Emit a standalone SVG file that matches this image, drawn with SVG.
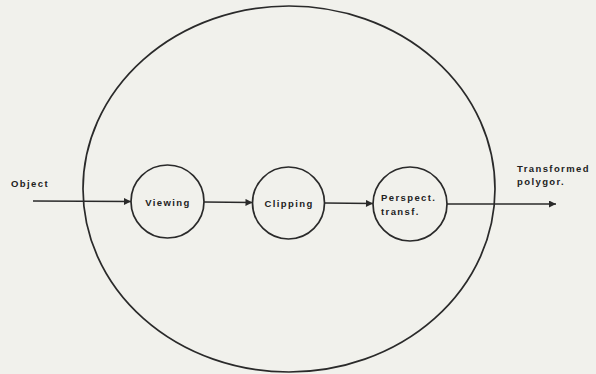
<svg xmlns="http://www.w3.org/2000/svg" width="596" height="374" viewBox="0 0 596 374">
<style>
.ln{stroke:#2a2a2a;stroke-width:1.7;fill:none}
.nd{stroke:#2a2a2a;stroke-width:1.7;fill:none}
text{font-family:"Liberation Sans",Arial,sans-serif;font-weight:bold;font-size:9.5px;letter-spacing:1.4px;fill:#222}
</style>
<defs>
<marker id="ah" viewBox="0 0 10 10" refX="10" refY="5" markerWidth="9" markerHeight="7" markerUnits="userSpaceOnUse" orient="auto">
<path d="M0,0 L10,5 L0,10 z" fill="#2a2a2a"/>
</marker>
</defs>
<rect width="596" height="374" fill="#f1f1ec"/>
<g id="system">
<ellipse cx="289" cy="189" rx="206" ry="183" class="nd"/>
</g>
<g id="viewing">
<circle cx="167.5" cy="201.5" r="36.5" class="nd"/>
<text x="168" y="205.5" text-anchor="middle">Viewing</text>
</g>
<g id="clipping">
<circle cx="288.5" cy="203" r="36" class="nd"/>
<text x="289" y="206.5" text-anchor="middle">Clipping</text>
</g>
<g id="perspect">
<circle cx="410" cy="204" r="37" class="nd"/>
<text x="381" y="201">Perspect.</text>
<text x="381" y="215">transf.</text>
</g>
<g id="labels">
<text x="11" y="187">Object</text>
<text x="517" y="172">Transformed</text>
<text x="517" y="185">polygor.</text>
</g>
<g id="connectors">
<line x1="33" y1="201" x2="131" y2="201.5" class="ln" marker-end="url(#ah)"/>
<line x1="204" y1="202" x2="252.5" y2="202.5" class="ln" marker-end="url(#ah)"/>
<line x1="324.5" y1="203" x2="373" y2="203.5" class="ln" marker-end="url(#ah)"/>
<line x1="447" y1="204" x2="556" y2="204" class="ln" marker-end="url(#ah)"/>
</g>
</svg>
